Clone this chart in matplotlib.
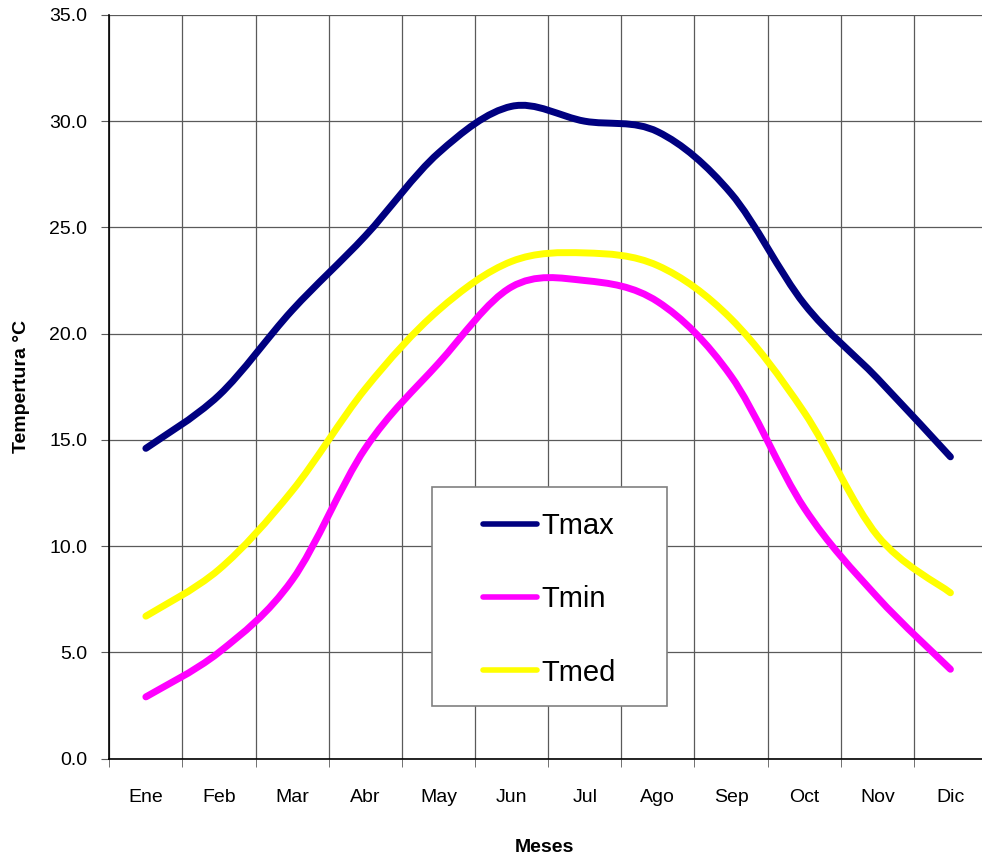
import numpy as np
import matplotlib
matplotlib.use("Agg")
import matplotlib.pyplot as plt
from matplotlib.path import Path
from matplotlib.patches import PathPatch, Rectangle
from matplotlib.lines import Line2D

# Data
meses = ['Ene', 'Feb', 'Mar', 'Abr', 'May', 'Jun', 'Jul', 'Ago', 'Sep', 'Oct', 'Nov', 'Dic']
tmax = [14.6, 17.1, 21.1, 24.6, 28.5, 30.7, 30.0, 29.5, 26.6, 21.4, 17.9, 14.2]
tmin = [2.9, 5.0, 8.4, 14.6, 18.6, 22.2, 22.5, 21.5, 18.0, 11.8, 7.6, 4.2]
tmed = [6.7, 8.9, 12.6, 17.4, 21.1, 23.4, 23.8, 23.2, 20.7, 16.3, 10.5, 7.8]

plt.rcParams['font.family'] = ['Liberation Sans', 'DejaVu Sans']


# Excel style smoothed line: cubic bezier segments through the points
def smoothPath(x, y):
  pts = np.column_stack([x, y]).astype(float)
  n = len(pts)
  verts = [pts[0]]
  codes = [Path.MOVETO]
  for i in range(n - 1):
    p0 = pts[max(i - 1, 0)]
    p1 = pts[i]
    p2 = pts[i + 1]
    p3 = pts[min(i + 2, n - 1)]
    verts += [p1 + (p2 - p0) / 6, p2 - (p3 - p1) / 6, p2]
    codes += [Path.CURVE4] * 3
  return Path(verts, codes)


def main():
  fig = plt.figure(figsize=(9.82, 8.56), dpi=100)
  ax = fig.add_axes([0.1113, 0.1139, 0.8938, 0.8686])

  x = np.arange(len(meses))
  series = [('Tmax', tmax, '#000080'), ('Tmin', tmin, '#FF00FF'), ('Tmed', tmed, '#FFFF00')]
  handles = []
  for name, vals, col in series:
    patch = PathPatch(smoothPath(x, vals), fill=False, edgecolor=col, lw=5,
                      capstyle='round', joinstyle='round', zorder=3)
    ax.add_patch(patch)
    handles.append(Line2D([], [], color=col, lw=4, solid_capstyle='round', label=name))

  # axes
  gcol = '#5a5a5a'
  ax.set_xlim(-0.5, len(meses) - 0.5)
  ax.set_ylim(0, 35)
  ax.set_xticks(x)
  ax.set_xticklabels(meses)
  ax.set_xticks(np.arange(-0.5, len(meses), 1), minor=True)
  ax.tick_params(axis='x', which='major', length=0, pad=22, labelsize=14)
  ax.tick_params(axis='x', which='minor', length=6, direction='out', color=gcol)
  ax.set_yticks(np.arange(0, 36, 5))
  ax.set_yticklabels([f'{v:.1f}' for v in np.arange(0, 36, 5)])
  ax.tick_params(axis='y', length=6, direction='out', pad=10, labelsize=14, color=gcol)
  ax.grid(True, axis='y', which='major', color=gcol, lw=0.9)
  ax.grid(True, axis='x', which='minor', color=gcol, lw=0.9)
  ax.set_axisbelow(True)
  for s in ['top', 'right']:
    ax.spines[s].set_visible(False)
  for s in ['left', 'bottom']:
    ax.spines[s].set_color('black')
    ax.spines[s].set_linewidth(1.2)

  # legend box
  ax.add_patch(Rectangle((0.3677, 0.0706), 0.2677, 0.2946, transform=ax.transAxes,
                         facecolor='white', edgecolor='#808080', lw=1.2, zorder=4))
  leg = ax.legend(handles=handles, loc='center', bbox_to_anchor=(0.5015, 0.2139),
                  frameon=False, fontsize=21, handlelength=1.85, handletextpad=0.15,
                  labelspacing=1.55, borderpad=0)
  leg.set_zorder(5)

  fig.text(544 / 982, 1 - 847 / 856, 'Meses', ha='center', va='center',
           fontsize=14, fontweight='bold')
  fig.text(22 / 982, 1 - 386 / 856, 'Tempertura °C', ha='center', va='center',
           rotation=90, fontsize=14, fontweight='bold')

  plt.savefig('out.png', dpi=100)


if __name__ == "__main__":
  main()
